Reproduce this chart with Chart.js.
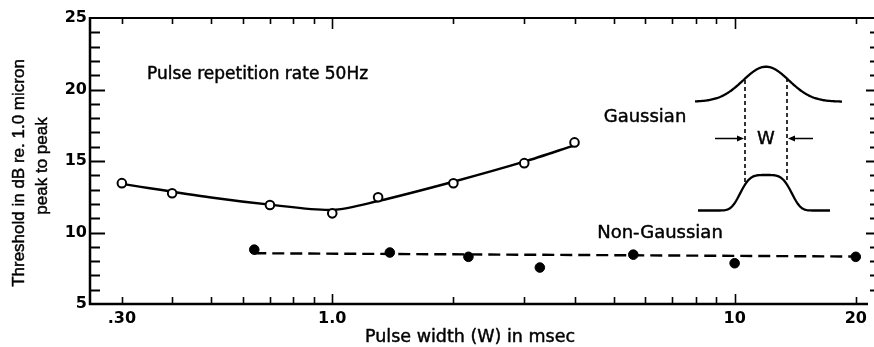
<!DOCTYPE html>
<html>
<head>
<meta charset="utf-8">
<script src="https://cdn.jsdelivr.net/npm/chart.js@4.4.1/dist/chart.umd.min.js"></script>
<style>
  html, body { margin: 0; padding: 0; background: #fff; }
  canvas { display: block; }
</style>
</head>
<body>
<canvas id="c" width="874" height="347"></canvas>
<script>
// Pulse width (msec) against threshold (dB re. 1.0 micron peak to peak), 50 Hz repetition rate
const gaussWidth = [0.3, 0.4, 0.7, 1.0, 1.3, 2.0, 3.0, 4.0];
const gaussThreshold = [13.45, 12.75, 11.92, 11.34, 12.46, 13.44, 14.85, 16.3];

const gaussFitWidth = [0.3, 0.5, 0.7, 1.0, 1.3, 2.0, 3.0, 4.0];
const gaussFitThreshold = [13.4, 12.45, 11.95, 11.58, 12.2, 13.55, 14.95, 16.1];

const nonGaussWidth = [0.64, 1.39, 2.18, 3.28, 5.6, 10, 20];
const nonGaussThreshold = [8.8, 8.6, 8.3, 7.55, 8.45, 7.85, 8.3];

const nonGaussFitWidth = [0.64, 20];
const nonGaussFitThreshold = [8.55, 8.32];

const xTickValues = [0.3, 1, 10, 20];
const xTickLabels = ['.30', '1.0', '10', '20'];
const xMarkValues = [0.3, 0.4, 0.5, 0.6, 0.7, 0.8, 0.9, 1, 2, 3, 4, 5, 6, 7, 8, 9, 10, 20];
const xLongMarks = [1, 10];
const yTickValues = [5, 10, 15, 20, 25];

const pts = (xs, ys) => xs.map((x, i) => ({ x: x, y: ys[i] }));

// text with a hairline outline so it reads as heavy as the line work
function inkText(ctx, text, x, y) {
  ctx.fillText(text, x, y);
  ctx.strokeText(text, x, y);
}

// Frame, inward tick marks, titles, notes and the two pulse shapes
const decorations = {
  id: 'decorations',
  afterDraw(chart) {
    const ctx = chart.ctx;
    const a = chart.chartArea;
    const xs = chart.scales.x;
    const ys = chart.scales.y;
    ctx.save();
    ctx.strokeStyle = '#000';
    ctx.fillStyle = '#000';
    ctx.lineCap = 'butt';

    // frame
    ctx.lineWidth = 2;
    ctx.beginPath();
    ctx.moveTo(a.left, a.top); ctx.lineTo(a.right, a.top);
    ctx.stroke();
    ctx.lineWidth = 2.5;
    ctx.beginPath();
    ctx.moveTo(a.left, a.top - 1); ctx.lineTo(a.left, a.bottom);
    ctx.lineTo(a.right - 6, a.bottom);
    ctx.stroke();

    // y tick marks (left and right, pointing inward)
    ctx.lineWidth = 2;
    for (let v = 6; v <= 24; v++) {
      const y = Math.round(ys.getPixelForValue(v)) + 0.5;
      const major = v % 5 === 0;
      ctx.beginPath();
      ctx.moveTo(a.left, y); ctx.lineTo(a.left + (major ? 15 : 10), y);
      ctx.stroke();
      ctx.beginPath();
      ctx.moveTo(a.right + 1, y); ctx.lineTo(a.right - (major ? 8 : 4), y);
      ctx.stroke();
    }

    // x tick marks (bottom and top, pointing inward)
    ctx.lineWidth = 1.6;
    xMarkValues.forEach(v => {
      const x = Math.round(xs.getPixelForValue(v)) + 0.5;
      const long = xLongMarks.includes(v);
      ctx.beginPath();
      ctx.moveTo(x, a.bottom); ctx.lineTo(x, a.bottom - (long ? 10 : 7));
      ctx.stroke();
      ctx.beginPath();
      ctx.moveTo(x, a.top); ctx.lineTo(x, a.top + (long ? 11 : 6));
      ctx.stroke();
    });

    // axis titles
    ctx.lineWidth = 0.45;
    ctx.lineJoin = 'round';
    ctx.textBaseline = 'middle';
    ctx.textAlign = 'center';
    ctx.font = '17px "Liberation Sans", Arial, sans-serif';
    ctx.save();
    ctx.translate(19, 173);
    ctx.rotate(-Math.PI / 2);
    inkText(ctx, 'Threshold in dB re. 1.0 micron', 0, 0);
    ctx.restore();
    ctx.save();
    ctx.translate(42, 166);
    ctx.rotate(-Math.PI / 2);
    inkText(ctx, 'peak to peak', 0, 0);
    ctx.restore();

    ctx.font = '17.5px "DejaVu Sans", sans-serif';
    inkText(ctx, 'Pulse width (W) in msec', 470, 337);

    // notes inside the plot
    ctx.font = '17px "DejaVu Sans", sans-serif';
    ctx.textAlign = 'left';
    inkText(ctx, 'Pulse repetition rate 50Hz', 147, 75);
    ctx.textAlign = 'center';
    ctx.font = '18px "DejaVu Sans", sans-serif';
    inkText(ctx, 'Gaussian', 645, 117);
    inkText(ctx, 'Non-Gaussian', 660, 233);
    inkText(ctx, 'W', 766, 139);

    // Gaussian pulse shape
    ctx.lineWidth = 2.3;
    ctx.beginPath();
    for (let x = 695; x <= 842; x++) {
      const d = x - 766;
      const y = 101.7 - 35 * Math.exp(-(d * d) / (2 * 23 * 23));
      if (x === 695) ctx.moveTo(x, y); else ctx.lineTo(x, y);
    }
    ctx.stroke();

    // flat-topped (non-Gaussian) pulse shape
    ctx.beginPath();
    for (let x = 698; x <= 830; x++) {
      const d = Math.abs(x - 766) / 28;
      const y = 210.5 - 35.5 * Math.exp(-Math.pow(d, 4));
      if (x === 698) ctx.moveTo(x, y); else ctx.lineTo(x, y);
    }
    ctx.stroke();

    // width markers
    ctx.lineWidth = 1.6;
    ctx.setLineDash([4, 3]);
    ctx.beginPath();
    ctx.moveTo(745, 80); ctx.lineTo(745, 183);
    ctx.moveTo(787, 78); ctx.lineTo(787, 182);
    ctx.stroke();
    ctx.setLineDash([]);

    ctx.lineWidth = 1.4;
    ctx.beginPath();
    ctx.moveTo(715, 138.5); ctx.lineTo(740, 138.5);
    ctx.moveTo(813, 138.5); ctx.lineTo(791, 138.5);
    ctx.stroke();
    ctx.beginPath();
    ctx.moveTo(744, 138.5); ctx.lineTo(737, 135.5); ctx.lineTo(737, 141.5); ctx.closePath();
    ctx.moveTo(788, 138.5); ctx.lineTo(795, 135.5); ctx.lineTo(795, 141.5); ctx.closePath();
    ctx.fill();

    ctx.restore();
  }
};

new Chart(document.getElementById('c'), {
  type: 'scatter',
  data: {
    datasets: [
      {
        label: 'Gaussian',
        data: pts(gaussWidth, gaussThreshold),
        showLine: false,
        pointRadius: 4.3,
        pointBackgroundColor: '#fff',
        pointBorderColor: '#000',
        pointBorderWidth: 2
      },
      {
        label: 'Non-Gaussian',
        data: pts(nonGaussWidth, nonGaussThreshold),
        showLine: false,
        pointRadius: 4.8,
        pointBackgroundColor: '#000',
        pointBorderColor: '#000',
        pointBorderWidth: 1
      },
      {
        label: 'Gaussian trend',
        data: pts(gaussFitWidth, gaussFitThreshold),
        showLine: true,
        pointRadius: 0,
        borderColor: '#000',
        borderWidth: 2.4,
        tension: 0.3
      },
      {
        label: 'Non-Gaussian trend',
        data: pts(nonGaussFitWidth, nonGaussFitThreshold),
        showLine: true,
        pointRadius: 0,
        borderColor: '#000',
        borderWidth: 2.4,
        borderDash: [12, 6]
      }
    ]
  },
  options: {
    responsive: false,
    animation: false,
    events: [],
    layout: { padding: { top: 18, left: 0, right: 0, bottom: 0 }, autoPadding: false },
    plugins: { legend: { display: false }, tooltip: { enabled: false } },
    scales: {
      x: {
        type: 'logarithmic',
        min: 0.25,
        max: 22.2,
        grid: { display: false, drawTicks: false },
        border: { display: false },
        afterBuildTicks: s => { s.ticks = xTickValues.map(v => ({ value: v })); },
        afterFit: s => { s.height = 43; },
        ticks: {
          autoSkip: false,
          maxRotation: 0,
          padding: 5,
          color: '#000',
          font: { family: 'DejaVu Sans', weight: 'bold', size: 16 },
          callback: (v, i) => xTickLabels[i]
        }
      },
      y: {
        min: 5,
        max: 25,
        grid: { display: false, drawTicks: false },
        border: { display: false },
        afterBuildTicks: s => { s.ticks = yTickValues.map(v => ({ value: v })); },
        afterFit: s => { s.width = 90; },
        ticks: {
          padding: 3,
          color: '#000',
          font: { family: 'DejaVu Sans', weight: 'bold', size: 16 },
          callback: v => String(v)
        }
      }
    }
  },
  plugins: [decorations]
});
</script>
</body>
</html>
